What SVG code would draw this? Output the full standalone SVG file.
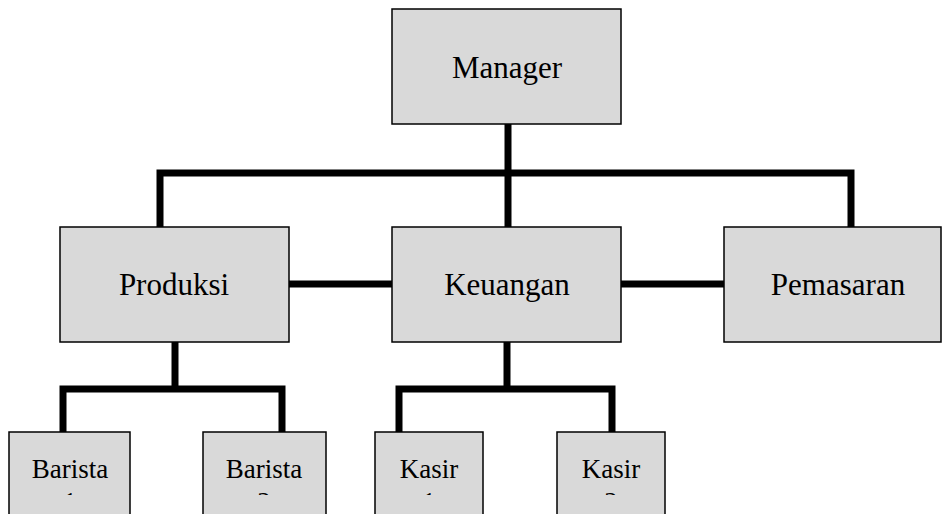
<svg xmlns="http://www.w3.org/2000/svg" width="943" height="514" viewBox="0 0 943 514">
<style>
.box{fill:#d9d9d9;stroke:#000;stroke-width:1.5}
.lbl{font-family:"Liberation Serif","Times New Roman",serif;fill:#000;text-anchor:middle}
.big{font-size:31px}
.sm{font-size:27px}
.con{fill:none;stroke:#000;stroke-width:7;stroke-linejoin:miter;stroke-linecap:butt}
</style>
<defs>
<clipPath id="c1"><rect x="9" y="432" width="121" height="63"/></clipPath>
<clipPath id="c2"><rect x="203" y="432" width="123" height="63"/></clipPath>
<clipPath id="c3"><rect x="375" y="432" width="108" height="63"/></clipPath>
<clipPath id="c4"><rect x="557" y="432" width="108" height="63"/></clipPath>
</defs>
<g id="connectors">
<polyline class="con" points="160,227 160,173 851,173 851,227"/>
<line class="con" x1="508" y1="124" x2="508" y2="227"/>
<line class="con" x1="289" y1="284" x2="392" y2="284"/>
<line class="con" x1="621" y1="284" x2="724" y2="284"/>
<line class="con" x1="175" y1="342" x2="175" y2="389"/>
<polyline class="con" points="63,432 63,389 282,389 282,432"/>
<line class="con" x1="507" y1="342" x2="507" y2="389"/>
<polyline class="con" points="399,432 399,389 612,389 612,432"/>
</g>
<g id="manager">
<rect class="box" x="392" y="9" width="229" height="115"/>
<text class="lbl big" x="507" y="78">Manager</text>
</g>
<g id="produksi">
<rect class="box" x="60" y="227" width="229" height="115"/>
<text class="lbl big" x="174" y="295">Produksi</text>
</g>
<g id="keuangan">
<rect class="box" x="392" y="227" width="229" height="115"/>
<text class="lbl big" x="507" y="295">Keuangan</text>
</g>
<g id="pemasaran">
<rect class="box" x="724" y="227" width="217" height="115"/>
<text class="lbl big" x="838" y="295">Pemasaran</text>
</g>
<g id="barista1">
<rect class="box" x="9" y="432" width="121" height="90"/>
<g clip-path="url(#c1)"><text class="lbl sm" x="70" y="478">Barista</text><text class="lbl sm" x="70" y="511">1</text></g>
</g>
<g id="barista2">
<rect class="box" x="203" y="432" width="123" height="90"/>
<g clip-path="url(#c2)"><text class="lbl sm" x="264" y="478">Barista</text><text class="lbl sm" x="264" y="511">2</text></g>
</g>
<g id="kasir1">
<rect class="box" x="375" y="432" width="108" height="90"/>
<g clip-path="url(#c3)"><text class="lbl sm" x="429" y="478">Kasir</text><text class="lbl sm" x="429" y="511">1</text></g>
</g>
<g id="kasir2">
<rect class="box" x="557" y="432" width="108" height="90"/>
<g clip-path="url(#c4)"><text class="lbl sm" x="611" y="478">Kasir</text><text class="lbl sm" x="611" y="511">2</text></g>
</g>
</svg>
